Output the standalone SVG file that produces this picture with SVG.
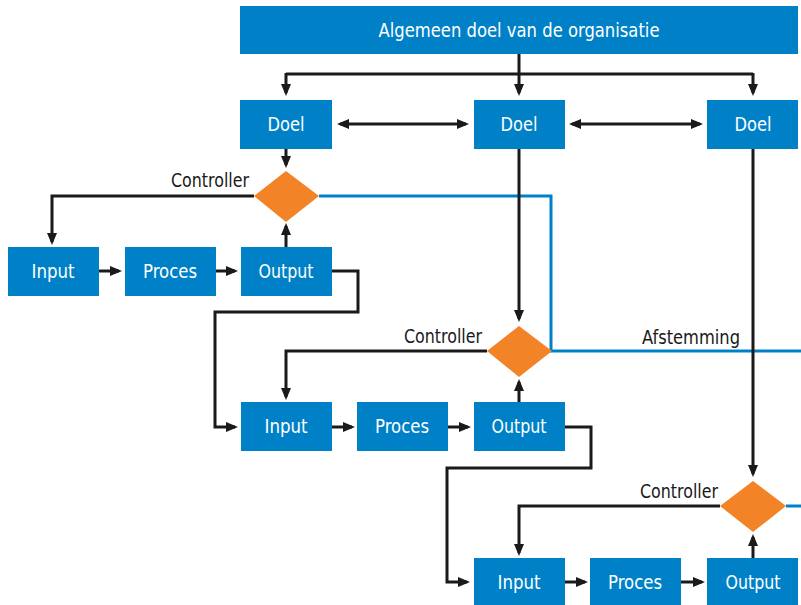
<svg xmlns="http://www.w3.org/2000/svg" width="801" height="605" viewBox="0 0 801 605">
<style>
.box{fill:#0081C7;}
.dia{fill:#F28327;}
.bt{fill:#fff;font-family:"Liberation Sans Narrow","DejaVu Sans Condensed","Liberation Sans",sans-serif;font-size:20px;text-anchor:middle;}
.lbl{fill:#1a1a1a;font-family:"Liberation Sans Narrow","DejaVu Sans Condensed","Liberation Sans",sans-serif;font-size:20px;text-anchor:end;}
.ln{fill:none;stroke:#1a1a1a;stroke-width:3;}
.ar{fill:none;stroke:#1a1a1a;stroke-width:3;marker-end:url(#ah);}
.da{fill:none;stroke:#1a1a1a;stroke-width:3;marker-start:url(#ah);marker-end:url(#ah);}
.bl{fill:none;stroke:#0081C7;stroke-width:3;}
</style>
<defs>
<marker id="ah" markerUnits="userSpaceOnUse" markerWidth="13" markerHeight="11" refX="9" refY="5" orient="auto-start-reverse" viewBox="0 0 13 11">
<path d="M0,0 L12,5 L0,10 z" fill="#1a1a1a"/>
</marker>
</defs>
<g id="connectors">
<path class="bl" d="M319,196 H551 V351 H801"/>
<path class="bl" d="M786,506 H801"/>
<path class="ln" d="M519,54 V74"/>
<path class="ln" d="M286,74 H753"/>
<path class="ar" d="M286,73 V93"/>
<path class="ar" d="M519,73 V93"/>
<path class="ar" d="M753,73 V93"/>
<path class="da" d="M340,124 H466"/>
<path class="da" d="M572,124 H700"/>
<path class="ar" d="M286,148 V165"/>
<path class="ar" d="M254,196 H52 V242"/>
<path class="ar" d="M99,271 H119"/>
<path class="ar" d="M216,271 H235"/>
<path class="ar" d="M286,247 V226"/>
<path class="ar" d="M332,271 H358 V312 H215 V427 H235"/>
<path class="ar" d="M519,148 V319"/>
<path class="ar" d="M487,351 H286 V397"/>
<path class="ar" d="M332,427 H352"/>
<path class="ar" d="M448,427 H468"/>
<path class="ar" d="M519,402 V382"/>
<path class="ar" d="M565,427 H591 V468 H447 V582 H467"/>
<path class="ar" d="M753,148 V474"/>
<path class="ar" d="M720,506 H519 V553"/>
<path class="ar" d="M565,582 H585"/>
<path class="ar" d="M681,582 H702"/>
<path class="ar" d="M753,558 V537"/>
</g>
<g id="banner"><rect class="box" x="240" y="6" width="558" height="48"/><text class="bt" x="519" y="37" textLength="281" lengthAdjust="spacingAndGlyphs">Algemeen doel van de organisatie</text></g>
<g id="doel1"><rect class="box" x="240" y="100" width="92" height="49"/><text class="bt" x="286" y="131" textLength="37" lengthAdjust="spacingAndGlyphs">Doel</text></g>
<g id="doel2"><rect class="box" x="474" y="100" width="91" height="49"/><text class="bt" x="519" y="131" textLength="37" lengthAdjust="spacingAndGlyphs">Doel</text></g>
<g id="doel3"><rect class="box" x="707" y="100" width="91" height="49"/><text class="bt" x="753" y="131" textLength="37" lengthAdjust="spacingAndGlyphs">Doel</text></g>
<g id="controller1"><polygon class="dia" points="286,171 319,196 286,222 254,196"/><text class="lbl" x="249" y="187" textLength="78" lengthAdjust="spacingAndGlyphs">Controller</text></g>
<g id="controller2"><polygon class="dia" points="519,326 552,351 519,377 487,351"/><text class="lbl" x="482" y="343" textLength="78" lengthAdjust="spacingAndGlyphs">Controller</text></g>
<g id="controller3"><polygon class="dia" points="753,481 786,506 753,532 720,506"/><text class="lbl" x="718" y="498" textLength="78" lengthAdjust="spacingAndGlyphs">Controller</text></g>
<text class="lbl" x="740" y="344" textLength="98" lengthAdjust="spacingAndGlyphs">Afstemming</text>
<g id="input1"><rect class="box" x="8" y="247" width="91" height="49"/><text class="bt" x="53" y="278" textLength="43" lengthAdjust="spacingAndGlyphs">Input</text></g>
<g id="proces1"><rect class="box" x="125" y="247" width="91" height="49"/><text class="bt" x="170" y="278" textLength="54" lengthAdjust="spacingAndGlyphs">Proces</text></g>
<g id="output1"><rect class="box" x="241" y="247" width="91" height="49"/><text class="bt" x="286" y="278" textLength="55" lengthAdjust="spacingAndGlyphs">Output</text></g>
<g id="input2"><rect class="box" x="241" y="402" width="91" height="49"/><text class="bt" x="286" y="433" textLength="43" lengthAdjust="spacingAndGlyphs">Input</text></g>
<g id="proces2"><rect class="box" x="357" y="402" width="91" height="49"/><text class="bt" x="402" y="433" textLength="54" lengthAdjust="spacingAndGlyphs">Proces</text></g>
<g id="output2"><rect class="box" x="474" y="402" width="91" height="49"/><text class="bt" x="519" y="433" textLength="55" lengthAdjust="spacingAndGlyphs">Output</text></g>
<g id="input3"><rect class="box" x="474" y="558" width="91" height="48"/><text class="bt" x="519" y="589" textLength="43" lengthAdjust="spacingAndGlyphs">Input</text></g>
<g id="proces3"><rect class="box" x="590" y="558" width="91" height="48"/><text class="bt" x="635" y="589" textLength="54" lengthAdjust="spacingAndGlyphs">Proces</text></g>
<g id="output3"><rect class="box" x="707" y="558" width="91" height="48"/><text class="bt" x="753" y="589" textLength="55" lengthAdjust="spacingAndGlyphs">Output</text></g>
</svg>
